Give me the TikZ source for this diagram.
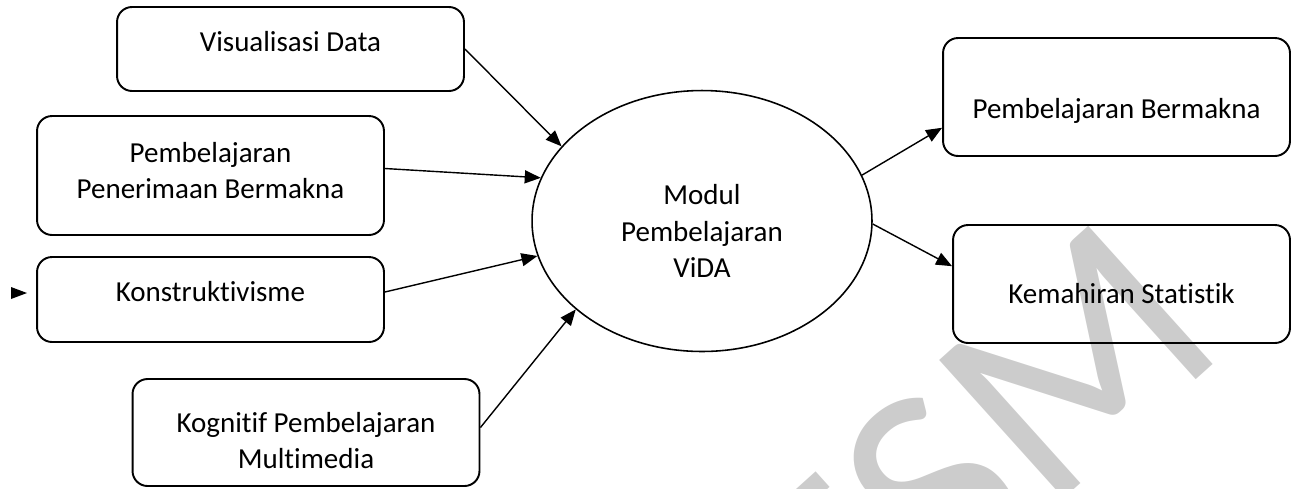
\documentclass[tikz,border=0pt]{standalone}
\usepackage{fontspec}
\setmainfont{Carlito}[Ligatures={NoCommon,NoContextual}]
\usetikzlibrary{arrows.meta,shapes.geometric}

\begin{document}
\begin{tikzpicture}[x=0.02cm,y=-0.02cm,
 box/.style={draw,line width=1.1pt,rounded corners=0.3cm,minimum width=6.94cm,align=center,font=\fontsize{16.5}{21}\selectfont},
 one/.style={inner ysep=0pt},
 tlab/.style={align=center,font=\fontsize{16.5}{21}\selectfont},
 arr/.style={-{Triangle[length=0.32cm,width=0.26cm]},line width=0.8pt}
]
 \useasboundingbox (0,0) rectangle (1293,488);
 % watermark
 \begin{scope}
  \clip (0,0) rectangle (1293,488);
  \node[text=black!20,font=\fontsize{165}{165}\selectfont,rotate=42] (wm) at (975,453) {ESM};
 \end{scope}
 \node[box,one,text height=0.88cm,text depth=0.8cm] (vis) at (290.5,49) {Visualisasi Data};
 \node[box,minimum height=2.38cm,
  label={[tlab,yshift=0.1cm]center:Pembelajaran\\Penerimaan Bermakna}] (pen) at (210.5,175.5) {};
 \node[box,one,text height=0.88cm,text depth=0.82cm] (kon) at (210.5,299.5) {Konstruktivisme};
 \node[box,minimum height=2.14cm,
  label={[tlab,yshift=-0.16cm]center:Kognitif Pembelajaran\\Multimedia}] (kog) at (306,432.5) {};
 \node[ellipse,draw,line width=0.9pt,minimum width=6.8cm,minimum height=5.22cm,
  label={[tlab,yshift=-0.2cm]center:Modul\\Pembelajaran\\ViDA}] (vida) at (702,221) {};
 \node[box,one,text height=1.6cm,text depth=0.76cm] (pbm) at (1116.5,97) {Pembelajaran Bermakna};
 \node[box,one,minimum width=6.74cm,text height=1.56cm,text depth=0.8cm] (kem) at (1121.5,284) {Kemahiran Statistik};
 \fill (11,287) -- (27,293) -- (11,299) -- cycle;
 \draw[arr] (vis.east) -- (vida.152);
 \draw[arr] ([yshift=0.14cm]pen.east) -- (vida.165);
 \draw[arr] ([yshift=0.15cm]kon.east) -- (vida.192);
 \draw[arr] ([yshift=0.1cm]kog.east) -- (vida.215);
 \draw[arr] (vida.16) -- (pbm.190);
 \draw[arr] (vida.359) -- (kem.174);
\end{tikzpicture}
\end{document}
